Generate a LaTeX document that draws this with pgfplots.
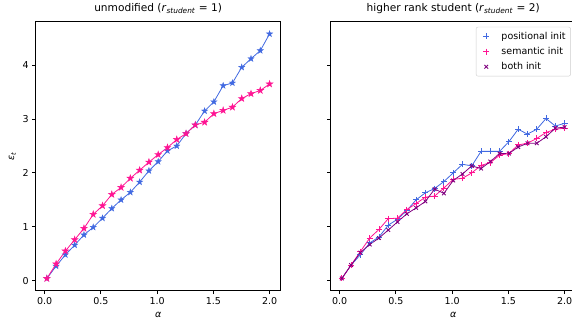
\documentclass[border=0pt]{standalone}
\usepackage{pgfplots}
\pgfplotsset{compat=1.18}
\usepackage{pgfplotstable}
\usepackage{fontspec}
\setmainfont{DejaVu Sans}
\usetikzlibrary{plotmarks}
\definecolor{cblue}{HTML}{4169E1}
\definecolor{cpink}{HTML}{FF1493}
\definecolor{cpurp}{HTML}{800080}

\pgfdeclareplotmark{fstar}{%
  \pgfpathmoveto{\pgfpointpolar{90}{\pgfplotmarksize}}%
  \pgfpathlineto{\pgfpointpolar{126}{0.382\pgfplotmarksize}}%
  \pgfpathlineto{\pgfpointpolar{162}{\pgfplotmarksize}}%
  \pgfpathlineto{\pgfpointpolar{198}{0.382\pgfplotmarksize}}%
  \pgfpathlineto{\pgfpointpolar{234}{\pgfplotmarksize}}%
  \pgfpathlineto{\pgfpointpolar{270}{0.382\pgfplotmarksize}}%
  \pgfpathlineto{\pgfpointpolar{306}{\pgfplotmarksize}}%
  \pgfpathlineto{\pgfpointpolar{342}{0.382\pgfplotmarksize}}%
  \pgfpathlineto{\pgfpointpolar{18}{\pgfplotmarksize}}%
  \pgfpathlineto{\pgfpointpolar{54}{0.382\pgfplotmarksize}}%
  \pgfpathclose
  \pgfusepathqfillstroke}

\pgfplotstableread{
a pos sem
0.0200 0.04 0.04
0.1025 0.27 0.31
0.1850 0.48 0.55
0.2675 0.66 0.76
0.3500 0.85 0.97
0.4325 0.99 1.23
0.5150 1.16 1.39
0.5975 1.34 1.60
0.6800 1.50 1.73
0.7625 1.64 1.90
0.8450 1.83 2.05
0.9275 2.04 2.20
1.0100 2.21 2.34
1.0925 2.41 2.47
1.1750 2.50 2.62
1.2575 2.73 2.73
1.3400 2.89 2.89
1.4225 3.15 2.94
1.5050 3.32 3.10
1.5875 3.62 3.16
1.6700 3.67 3.22
1.7525 3.96 3.38
1.8350 4.12 3.47
1.9175 4.27 3.53
2.0000 4.58 3.65
}\leftdata

\pgfplotstableread{
a pos sem both
0.0200 0.04 0.04 0.04
0.1025 0.29 0.29 0.29
0.1850 0.48 0.54 0.52
0.2675 0.70 0.79 0.67
0.3500 0.81 0.95 0.79
0.4325 1.03 1.15 0.94
0.5150 1.14 1.16 1.09
0.5975 1.30 1.32 1.24
0.6800 1.50 1.43 1.35
0.7625 1.63 1.55 1.47
0.8450 1.71 1.57 1.70
0.9275 1.84 1.72 1.62
1.0100 2.00 1.88 1.86
1.0925 2.16 1.90 1.98
1.1750 2.13 2.00 2.13
1.2575 2.40 2.14 2.08
1.3400 2.40 2.19 2.21
1.4225 2.40 2.33 2.36
1.5050 2.58 2.36 2.36
1.5875 2.81 2.52 2.48
1.6700 2.72 2.55 2.55
1.7525 2.81 2.64 2.55
1.8350 3.01 2.75 2.67
1.9175 2.87 2.81 2.83
2.0000 2.92 2.83 2.85
}\rightdata

\pgfplotsset{
  myax/.style={
    scale only axis, width=245pt, height=269pt,
    anchor=south west,
    xmin=-0.079, xmax=2.099, ymin=-0.187, ymax=4.807,
    xtick={0,0.5,1,1.5,2}, ytick={0,1,2,3,4},
    xticklabel style={/pgf/number format/fixed, /pgf/number format/fixed zerofill, /pgf/number format/precision=1},
    /pgf/number format/assume math mode=true,
    tick align=outside, major tick length=3.5pt, tick pos=left,
    axis line style={line width=0.8pt},
    every tick/.style={black, line width=0.8pt},
    ticklabel style={font=\fontsize{9.5}{11}\selectfont},
    label style={font=\fontsize{9.5}{11}\selectfont},
    title style={font=\fontsize{10.6}{12}\selectfont, yshift=-1.5pt},
    xlabel={\textit{α}},
    clip=false,
  }
}

\begin{document}
\begin{tikzpicture}
\useasboundingbox (0pt,0pt) rectangle (572pt,322pt);
\begin{axis}[myax, at={(35.7pt,31.3pt)},
  title={unmodified (\textit{r}\textsubscript{\textit{student}} = 1)},
  ylabel={\textit{ε}\textsubscript{\textit{t}}}]
\addplot[cblue, line width=0.8pt, mark=fstar, mark size=3.2pt, mark options={solid, line width=0.4pt}] table[x=a, y=pos] {\leftdata};
\addplot[cpink, line width=0.8pt, mark=fstar, mark size=3.4pt, mark options={solid, line width=0.5pt}] table[x=a, y=sem] {\leftdata};
\end{axis}
\begin{axis}[myax, at={(330.7pt,31.3pt)},
  title={higher rank student (\textit{r}\textsubscript{\textit{student}} = 2)},
  yticklabels={},
  legend image code/.code={\path (0pt,0pt) (20pt,0pt); \draw[#1] plot coordinates {(7pt,0pt)};},
  legend style={at={(0.98,0.981)}, anchor=north east, draw=black!20, rounded corners=2pt,
    fill=white, font=\fontsize{9.5}{11}\selectfont, row sep=2.5pt, inner xsep=3pt, inner ysep=3pt,
    cells={anchor=west}, legend cell align=left}]
\addplot[cblue, line width=0.8pt, no marks, forget plot] table[x=a, y=pos] {\rightdata};
\addplot[cpink, line width=0.8pt, no marks, forget plot] table[x=a, y=sem] {\rightdata};
\addplot[cpurp, line width=0.8pt, no marks, forget plot] table[x=a, y=both] {\rightdata};
\addplot[cblue, only marks, mark=+, mark size=3pt, mark options={cblue, line width=0.9pt}] table[x=a, y=pos] {\rightdata};
\addlegendentry{positional init}
\addplot[cpink, only marks, mark=+, mark size=3pt, mark options={cpink, line width=0.9pt}] table[x=a, y=sem] {\rightdata};
\addlegendentry{semantic init}
\addplot[cpurp, only marks, mark=x, mark size=2.6pt, mark options={cpurp, line width=0.9pt}] table[x=a, y=both] {\rightdata};
\addlegendentry{both init}
\end{axis}
\end{tikzpicture}
\end{document}
